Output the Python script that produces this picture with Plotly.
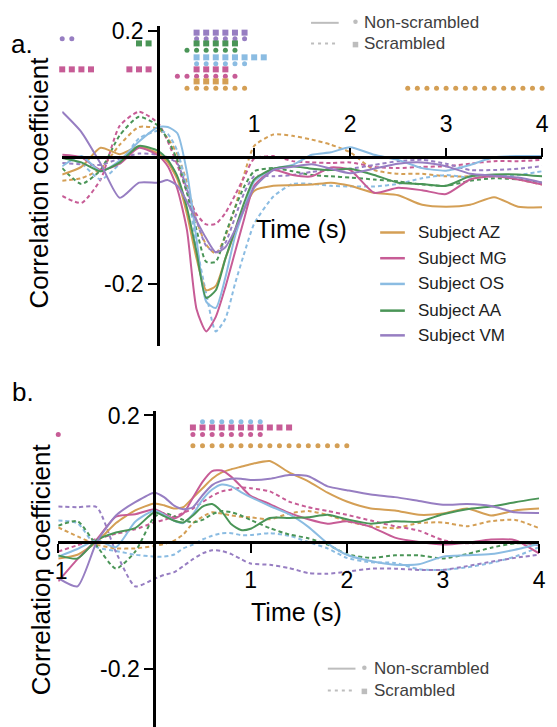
import plotly.graph_objects as go

W, H = 557, 727
FONT = "Liberation Sans, Arial, Helvetica, sans-serif"

# ---------------- data ----------------
T = [-1, -0.8, -0.6, -0.4, -0.2, 0, 0.1, 0.2, 0.3, 0.4, 0.5, 0.6, 0.7, 0.8, 0.9, 1.0,
     1.2, 1.4, 1.6, 1.8, 2.0, 2.25, 2.5, 2.75, 3.0, 3.25, 3.5, 3.75, 4.0]

SUBJECTS = ["AZ", "MG", "OS", "AA", "VM"]
COLORS = {"AZ": "#D49F55", "MG": "#C75C96", "OS": "#8BBCE2", "AA": "#4A9557", "VM": "#977EC2"}

# Panel a, non-scrambled (solid)
A_AZ = [-0.027, -0.015, 0.015, 0.005, 0.017, 0.006, -0.008, -0.035, -0.090, -0.160, -0.210, -0.203, -0.160, -0.118, -0.080, -0.053,
        -0.045, -0.044, -0.043, -0.040, -0.045, -0.056, -0.060, -0.075, -0.078, -0.075, -0.063, -0.078, -0.079]
A_MG = [0.004, 0.000, -0.020, -0.010, 0.015, 0.003, -0.014, -0.050, -0.115, -0.240, -0.275, -0.252, -0.205, -0.150, -0.095, -0.045,
        -0.020, -0.028, -0.030, -0.016, -0.020, -0.056, -0.048, -0.052, -0.058, -0.035, -0.030, -0.035, -0.043]
A_OS = [-0.014, 0.002, -0.022, -0.005, 0.025, 0.048, 0.048, 0.038, -0.024, -0.130, -0.228, -0.238, -0.190, -0.125, -0.080, -0.038,
        -0.018, -0.012, 0.004, 0.008, 0.016, 0.004, -0.004, -0.017, -0.021, -0.012, 0.000, 0.002, 0.002]
A_AA = [-0.001, -0.008, -0.022, -0.008, 0.018, 0.010, -0.004, -0.030, -0.080, -0.150, -0.222, -0.210, -0.160, -0.115, -0.070, -0.035,
        -0.018, -0.014, -0.018, -0.020, -0.018, -0.028, -0.040, -0.042, -0.045, -0.030, -0.027, -0.027, -0.030]
A_VM = [0.072, 0.040, -0.010, -0.064, -0.040, -0.040, -0.036, -0.045, -0.070, -0.100, -0.128, -0.150, -0.142, -0.115, -0.080, -0.048,
        -0.020, -0.015, -0.011, -0.018, -0.025, -0.018, -0.010, -0.008, -0.014, -0.026, -0.029, -0.032, -0.040]

# Panel a, scrambled (dashed)
A_AZ_S = [-0.037, -0.033, -0.018, 0.020, 0.048, 0.045, 0.030, 0.005, -0.040, -0.100, -0.138, -0.152, -0.125, -0.080, -0.025, 0.018,
          0.036, 0.034, 0.028, 0.020, 0.008, -0.020, -0.026, -0.026, -0.030, -0.030, -0.028, -0.035, -0.043]
A_MG_S = [-0.061, -0.072, -0.035, 0.050, 0.072, 0.054, 0.025, -0.012, -0.055, -0.090, -0.106, -0.105, -0.088, -0.060, -0.030, -0.002,
          0.002, -0.006, -0.008, -0.009, -0.008, -0.015, -0.017, -0.015, -0.014, -0.010, -0.006, -0.006, -0.004]
A_OS_S = [0.000, -0.010, -0.035, -0.010, 0.030, 0.042, 0.037, 0.010, -0.050, -0.140, -0.215, -0.275, -0.255, -0.200, -0.150, -0.105,
          -0.062, -0.042, -0.042, -0.045, -0.046, -0.046, -0.042, -0.033, -0.028, -0.032, -0.030, -0.028, -0.022]
A_AA_S = [-0.017, -0.042, -0.020, 0.035, 0.064, 0.050, 0.028, -0.005, -0.056, -0.115, -0.165, -0.165, -0.122, -0.080, -0.045, -0.022,
          -0.017, -0.022, -0.028, -0.030, -0.032, -0.035, -0.038, -0.043, -0.045, -0.037, -0.033, -0.035, -0.040]
A_VM_S = [-0.009, -0.011, -0.012, -0.002, 0.006, 0.004, 0.000, -0.010, -0.050, -0.100, -0.140, -0.150, -0.135, -0.095, -0.055, -0.030,
          -0.030, -0.028, -0.023, -0.020, -0.018, -0.012, -0.006, -0.004, -0.010, -0.020, -0.020, -0.018, -0.014]

# Panel b, non-scrambled (solid)
B_AZ = [-0.026, -0.020, 0.000, 0.030, 0.050, 0.061, 0.058, 0.053, 0.055, 0.070, 0.085, 0.100, 0.110, 0.115, 0.119, 0.123,
        0.128, 0.110, 0.096, 0.078, 0.064, 0.053, 0.050, 0.043, 0.045, 0.053, 0.042, 0.050, 0.053]
B_MG = [-0.062, -0.027, 0.004, 0.040, 0.044, 0.052, 0.045, 0.037, 0.045, 0.070, 0.095, 0.112, 0.113, 0.103, 0.088, 0.073,
        0.060, 0.046, 0.036, 0.029, 0.033, 0.024, 0.007, 0.000, -0.004, -0.001, 0.004, 0.003, -0.018]
B_OS = [-0.023, -0.011, 0.003, -0.008, 0.032, 0.050, 0.043, 0.034, 0.030, 0.044, 0.067, 0.083, 0.091, 0.088, 0.079, 0.071,
        0.057, 0.044, 0.024, -0.002, -0.020, -0.030, -0.036, -0.035, -0.023, -0.021, -0.019, -0.012, -0.003]
B_AA = [-0.021, -0.026, 0.003, 0.015, 0.022, 0.047, 0.041, 0.034, 0.031, 0.042, 0.056, 0.060, 0.048, 0.028, 0.019, 0.021,
        0.038, 0.038, 0.039, 0.043, 0.036, 0.029, 0.033, 0.032, 0.044, 0.052, 0.056, 0.063, 0.069]
B_VM = [-0.057, -0.070, 0.000, 0.042, 0.063, 0.078, 0.071, 0.058, 0.052, 0.055, 0.074, 0.090, 0.097, 0.100, 0.100, 0.098,
        0.100, 0.106, 0.104, 0.088, 0.082, 0.075, 0.071, 0.065, 0.059, 0.060, 0.057, 0.047, 0.046]

# Panel b, scrambled (dashed)
B_AZ_S = [0.023, 0.009, -0.004, -0.010, -0.010, -0.006, -0.003, 0.002, 0.012, 0.030, 0.040, 0.047, 0.045, 0.042, 0.040, 0.039,
          0.036, 0.045, 0.049, 0.043, 0.033, 0.025, 0.022, 0.030, 0.031, 0.025, 0.033, 0.035, 0.022]
B_MG_S = [-0.015, -0.005, 0.005, 0.013, 0.020, 0.031, 0.035, 0.040, 0.046, 0.053, 0.063, 0.073, 0.080, 0.083, 0.086, 0.085,
          0.080, 0.064, 0.055, 0.049, 0.043, 0.034, 0.025, 0.018, 0.003, -0.002, 0.000, 0.000, -0.005]
B_OS_S = [0.034, 0.030, -0.008, -0.014, -0.020, -0.023, -0.023, -0.020, -0.010, -0.004, 0.004, 0.010, 0.014, 0.014, 0.011, 0.011,
          0.014, 0.010, 0.000, -0.010, -0.025, -0.032, -0.033, -0.043, -0.044, -0.040, -0.033, -0.023, -0.008]
B_AA_S = [0.026, 0.033, -0.006, -0.042, -0.015, 0.040, 0.046, 0.041, 0.035, 0.031, 0.035, 0.044, 0.049, 0.047, 0.042, 0.035,
          0.022, 0.012, 0.006, -0.004, -0.019, -0.025, -0.021, -0.021, -0.026, -0.019, -0.009, -0.002, -0.003]
B_VM_S = [0.056, 0.055, 0.055, -0.016, -0.070, -0.058, -0.052, -0.048, -0.038, -0.027, -0.018, -0.013, -0.014, -0.019, -0.027, -0.034,
          -0.036, -0.041, -0.049, -0.050, -0.047, -0.042, -0.042, -0.044, -0.044, -0.038, -0.031, -0.025, -0.020]

# Significance markers (times, s)
A_SIG = [  # subject, kind ("non" = dot, "scr" = square), row level, times
    ("VM", "scr", 0.197, [0.4, 0.5, 0.6, 0.7, 0.8, 0.9]),
    ("VM", "non", 0.1875, [-1.0, -0.9, 0.4, 0.5, 0.6, 0.7, 0.8, 0.9]),
    ("AA", "scr", 0.180, [-0.2, -0.1, 0.4, 0.5, 0.6, 0.7, 0.8]),
    ("AA", "non", 0.169, [0.3, 0.4, 0.5, 0.6, 0.7, 0.8]),
    ("OS", "scr", 0.158, [0.4, 0.5, 0.6, 0.7, 0.8, 0.9, 1.0, 1.1]),
    ("OS", "non", 0.148, [0.4, 0.5, 0.6, 0.7, 0.8, 0.9]),
    ("MG", "scr", 0.139, [-1.0, -0.9, -0.8, -0.7, -0.3, -0.2, -0.1, 0.4, 0.5, 0.6, 0.7]),
    ("MG", "non", 0.128, [0.2, 0.3, 0.4, 0.5, 0.6, 0.7, 0.8]),
    ("AZ", "scr", 0.120, [0.4, 0.5, 0.6, 0.7]),
    ("AZ", "non", 0.109, [0.3, 0.4, 0.5, 0.6, 0.7, 0.8, 0.9,
                          2.6, 2.7, 2.8, 2.9, 3.0, 3.1, 3.2, 3.3, 3.4, 3.5, 3.6, 3.7, 3.8, 3.9, 4.0]),
]
B_SIG = [
    ("AA", "non", 0.209, [3.9, 4.0]),
    ("OS", "non", 0.190, [0.5, 0.6, 0.7, 0.8, 0.9, 1.0, 1.1]),
    ("MG", "scr", 0.181, [0.4, 0.5, 0.6, 0.7, 0.8, 0.9, 1.0, 1.1, 1.2, 1.3, 1.4]),
    ("MG", "non", 0.170, [-1.0, 0.4, 0.5, 0.6, 0.7, 0.8, 0.9, 1.0, 1.1]),
    ("AZ", "non", 0.152, [0.4, 0.5, 0.6, 0.7, 0.8, 0.9, 1.0, 1.1, 1.2, 1.3, 1.4, 1.5, 1.6, 1.7, 1.8, 1.9, 2.0]),
]

A_NON = {"AZ": A_AZ, "MG": A_MG, "OS": A_OS, "AA": A_AA, "VM": A_VM}
A_SCR = {"AZ": A_AZ_S, "MG": A_MG_S, "OS": A_OS_S, "AA": A_AA_S, "VM": A_VM_S}
B_NON = {"AZ": B_AZ, "MG": B_MG, "OS": B_OS, "AA": B_AA, "VM": B_VM}
B_SCR = {"AZ": B_AZ_S, "MG": B_MG_S, "OS": B_OS_S, "AA": B_AA_S, "VM": B_VM_S}

# ---------------- figure ----------------
fig = go.Figure()

def px(x):
    return x / W

def py(y):
    return 1 - y / H

for xa, ya, non, scr in (("x", "y", A_NON, A_SCR), ("x2", "y2", B_NON, B_SCR)):
    for s in SUBJECTS:
        fig.add_trace(go.Scatter(x=T, y=scr[s], xaxis=xa, yaxis=ya, mode="lines",
                                 line=dict(color=COLORS[s], width=2, dash="4px,3px",
                                           shape="spline", smoothing=0.6),
                                 showlegend=False, hoverinfo="skip"))
    for s in SUBJECTS:
        fig.add_trace(go.Scatter(x=T, y=non[s], xaxis=xa, yaxis=ya, mode="lines",
                                 line=dict(color=COLORS[s], width=2, shape="spline", smoothing=0.6),
                                 showlegend=False, hoverinfo="skip"))

for xa, ya, sig in (("x", "y", A_SIG), ("x2", "y2", B_SIG)):
    for s, kind, lvl, times in sig:
        fig.add_trace(go.Scatter(x=times, y=[lvl] * len(times), xaxis=xa, yaxis=ya, mode="markers",
                                 marker=dict(color=COLORS[s], size=6 if kind == "scr" else 5,
                                             symbol="square" if kind == "scr" else "circle",
                                             line=dict(width=0)),
                                 cliponaxis=False, showlegend=False, hoverinfo="skip"))

axis_common = dict(showgrid=False, zeroline=False, showline=True, linecolor="black", linewidth=2.5,
                   ticks="outside", ticklen=9, tickwidth=2, tickcolor="black",
                   tickfont=dict(family=FONT, size=23, color="black"))

fig.update_layout(
    width=W, height=H, margin=dict(l=0, r=0, t=0, b=0),
    paper_bgcolor="white", plot_bgcolor="rgba(0,0,0,0)", showlegend=False,
    xaxis=dict(domain=[px(63), px(549)], range=[-1, 4], anchor="free", position=py(151), side="top",
               tickvals=[1, 2, 3, 4], ticktext=["1", "2", "3", "4"], ticklabelstandoff=6, **axis_common),
    yaxis=dict(domain=[py(342), py(18)], range=[(151 - 342) / 640, (151 - 18) / 640], anchor="free",
               position=px(160), side="left", tickvals=[-0.2, 0.2], ticktext=["-0.2", "0.2"], **axis_common),
    xaxis2=dict(domain=[px(59), px(546)], range=[-1, 4], anchor="free", position=py(540), side="bottom",
                tickvals=[-1, 1, 2, 3, 4], ticktext=["", "1", "2", "3", "4"], ticklabelstandoff=8, **axis_common),
    yaxis2=dict(domain=[0, py(407)], range=[(540 - 727) / 640, (540 - 407) / 640], anchor="free",
                position=px(156), side="left", tickvals=[-0.2, 0.2], ticktext=["-0.2", "0.2"], **axis_common),
)

ann = []
def text(x, y, t, size, color="black", xanchor="center", angle=0):
    ann.append(dict(x=px(x), y=py(y), xref="paper", yref="paper", text=t, showarrow=False,
                    xanchor=xanchor, yanchor="middle", textangle=angle,
                    font=dict(family=FONT, size=size, color=color)))

text(22, 36, "a.", 26)
text(23, 388, "b.", 26)
text(40, 176, "Correlation coefficient", 26, angle=-90)
text(41, 567, "Correlation coefficient", 26, angle=-90)
text(305, 223, "Time (s)", 25)
text(300, 611, "Time (s)", 25)
text(58, 569, "-1", 23)

shapes = []
# subject legend (panel a)
SUBJ_ROWS = [227, 253, 279, 306, 331]
for s, yy in zip(SUBJECTS, SUBJ_ROWS):
    shapes.append(dict(type="line", xref="paper", yref="paper", x0=px(385), x1=px(410), y0=py(yy), y1=py(yy),
                       line=dict(color=COLORS[s], width=2.5)))
    text(421, yy, "Subject " + s, 17, color="#222222", xanchor="left")

# condition legends
GRAY = "#BDBDBD"
for (lx0, lx1, mx, tx, y1, y2) in ((315, 343, 360, 367, 15, 36), (332, 360, 369, 377, 668, 690)):
    shapes.append(dict(type="line", xref="paper", yref="paper", x0=px(lx0), x1=px(lx1), y0=py(y1), y1=py(y1),
                       line=dict(color=GRAY, width=2)))
    shapes.append(dict(type="line", xref="paper", yref="paper", x0=px(lx0), x1=px(lx1), y0=py(y2), y1=py(y2),
                       line=dict(color=GRAY, width=2, dash="3px,4px")))
    shapes.append(dict(type="circle", xref="paper", yref="paper", x0=px(mx - 2.3), x1=px(mx + 2.3),
                       y0=py(y1 - 1 + 2.3), y1=py(y1 - 1 - 2.3), fillcolor=GRAY, line=dict(width=0)))
    shapes.append(dict(type="rect", xref="paper", yref="paper", x0=px(mx - 2.8), x1=px(mx + 2.8),
                       y0=py(y2 + 1 + 2.8), y1=py(y2 + 1 - 2.8), fillcolor=GRAY, line=dict(width=0)))
    text(tx, y1, "Non-scrambled", 17, color="#404040", xanchor="left")
    text(tx, y2, "Scrambled", 17, color="#404040", xanchor="left")

fig.update_layout(annotations=ann, shapes=shapes)
fig.write_html("out.html")
